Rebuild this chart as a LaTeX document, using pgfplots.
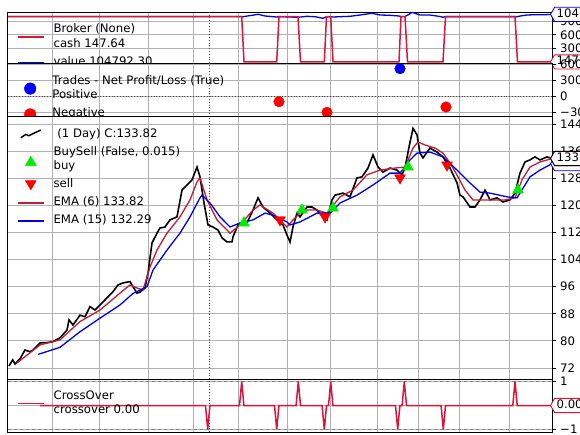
\documentclass[border=0pt]{standalone}
\usepackage{fontspec}
\setmainfont{DejaVu Sans}
\usepackage{pgfplots}
\usepackage{pgfplotstable}
\pgfplotsset{compat=1.18}
\usetikzlibrary{shapes.symbols}
\definecolor{crim}{RGB}{220,20,60}
\definecolor{emared}{RGB}{190,30,55}
\definecolor{gridgray}{RGB}{176,176,176}
\definecolor{bblue}{RGB}{0,0,230}
\definecolor{buygreen}{RGB}{0,235,0}
\newcommand\fs{\fontsize{11.7}{14.6}\selectfont}
\newcommand\two[2]{\raisebox{-10.22pt}{\vbox{\hbox{\strut#1}\hbox{\strut#2}}}}
\newcommand\one[1]{\raisebox{-2.92pt}{\strut#1}}
\tikzset{tag/.style={signal, signal to=west, signal pointer angle=120, draw=#1, fill=white, line width=0.9pt, font=\fs, anchor=west, text height=8.6pt, text depth=2.6pt, inner ysep=1.5pt, inner xsep=2pt}}
\pgfplotsset{
  btpanel/.style={
    scale only axis, width=544pt, xmin=0, xmax=544,
    anchor=north west,
    scaled y ticks=false,
    axis background/.style={fill=white},
    axis line style={black, line width=1pt},
    grid=major, grid style={gridgray, line width=0.8pt},
    xtick={44,91,140,185,230,279,322,369,410,451,501},
    xticklabels={},
    extra x ticks={201}, extra x tick labels={},
    extra x tick style={grid style={black!75, dotted, line width=1pt}, major tick length=0pt},
    ytick pos=right, yticklabel pos=right,
    tick align=outside, major tick length=4pt,
    tick style={black, line width=0.8pt},
    xtick style={draw=none},
    yticklabel style={font=\fs, anchor=west, inner sep=0pt, xshift=4pt},
    legend style={draw=none, fill=none, font=\fs, at={(0,1)}, anchor=north west, inner sep=0pt, outer sep=0pt, column sep=9pt, row sep=3.4pt, cells={anchor=west}, nodes={inner sep=0pt, outer sep=0pt, text depth=}},
    legend cell align=left,
  },
  hline/.style={legend image code/.code={\path (0pt,-7pt) (26pt,7pt); \draw[color=#1,line width=1.6pt] (0pt,0pt)--(26pt,0pt);}},
}
\pgfplotstableread{
x y
1 72.6
4.7 74.4
7 73.2
12 74.7
17 77.3
22 76.8
25 77.3
32 79.4
39 79.5
45 79.8
52 80.9
59 83.2
61 86.2
65 84.7
72 87.6
77 87.1
82 90.1
87 89.1
92 90.6
99 92.7
105 94.5
110 96.5
115 97.1
122 97.5
125 96.0
129 94.1
132 94.4
137 95.6
140 100.0
144 108.9
149 111.8
152 113.3
157 113.6
162 115.7
169 116.6
174 124.5
179 126.0
184 127.5
189 131.3
192 128.4
196 120.7
200 114.2
205 113.6
210 112.7
214 110.4
219 109.2
224 109.2
225 110.7
230 114.2
239 114.8
245 118.6
250 122.2
255 119.5
262 117.7
269 115.7
275 114.2
279 111.2
282 109.2
285 113.6
289 117.7
292 116.6
299 119.5
304 119.5
309 118.6
315 116.6
319 115.7
324 121.6
327 123.0
335 123.6
342 122.5
349 128.1
354 128.4
360 131.0
365 134.9
370 131.3
375 129.8
382 131.0
389 130.4
394 129.0
397 131.0
401 137.2
405 142.7
409 140.8
412 135.4
415 134.0
422 136.9
429 135.7
435 134.3
442 131.0
449 126.6
452 123.0
455 122.5
462 119.5
467 119.5
472 121.6
477 124.5
482 121.6
489 122.2
495 121.0
502 121.6
507 123.6
512 129.5
517 132.8
522 133.4
527 134.3
532 133.4
539 134.3
544 133.8
}\closedata
\pgfplotstableread{
x y
9 73.5
19 75.8
32 78.8
52 80.3
72 85.7
92 89.1
112 94.1
122 96.5
129 95.6
135 95.0
142 101.8
149 106.8
159 111.8
172 116.6
182 121.6
189 126.9
192 128.1
199 121.6
209 115.7
222 111.8
232 114.2
245 118.6
252 120.1
265 117.7
279 113.6
285 115.7
295 118.6
309 118.6
319 117.7
332 122.5
345 124.5
359 129.0
372 130.4
387 131.0
397 131.3
405 136.9
410 138.7
417 137.8
427 136.9
435 135.4
442 132.5
450 128.4
457 124.5
465 121.6
477 121.6
487 121.6
497 121.6
507 122.2
514 127.5
522 131.3
532 132.8
544 133.8
}\emasix
\pgfplotstableread{
x y
30 76.0
52 78.1
72 82.7
92 86.7
112 90.6
125 94.0
132 95.0
139 96.0
145 100.9
159 106.8
172 111.8
182 116.6
192 122.2
194 123.0
202 120.7
212 116.6
222 113.6
232 114.8
245 115.7
257 117.7
265 117.1
279 115.1
282 114.2
292 115.1
309 117.7
322 117.7
332 120.7
349 123.0
365 126.0
382 129.5
392 129.5
402 133.4
409 135.4
422 135.7
435 134.3
449 130.4
462 126.6
472 123.9
482 123.6
499 122.5
509 122.2
522 128.4
532 130.4
544 132.3
}\emafifteen
\pgfplotstableread{
x y
236 114.8
294 118.6
325 119.2
400 131.3
510 124.5
}\buys
\pgfplotstableread{
x y
272 115.7
317 116.6
392 128.1
439 131.9
}\sells
\pgfplotstableread{
x y
0 100000
233.7 100000
236 500
268.7 500
271 99900
290 99900
292.5 500
316.3 500
318.5 99600
322.7 99600
325 500
391 500
393 100100
397 100100
399.5 500
435 500
437.5 99900
507 99900
509.5 147.64
544 147.64
}\cash
\pgfplotstableread{
x y
0 100000
233.7 100000
235 99700
250.3 104990
257 101250
268.7 99045
271 99900
290 98385
299 100590
307 99700
315 96180
318.5 99600
322.7 99600
325 99045
342 100590
352 103450
364 107190
372 103450
382 102790
391 101250
393 100100
397 100100
400 103450
404 109390
412 103450
422 103450
432 100150
435 98385
437.5 99900
507 99900
509 99705
514 101900
519 103450
527 104100
537 104100
544 104792
}\value
\pgfplotstableread{
x y
32 0
197.5 0
199.7 -1
201.9 0
231.5 0
233.7 1
235.9 0
266.5 0
268.7 -1
270.9 0
288.1 0
290.3 1
292.5 0
314.1 0
316.3 -1
318.5 0
320.5 0
322.7 1
324.9 0
387.5 0
389.7 -1
391.9 0
394.1 0
396.3 1
398.5 0
433.1 0
435.3 -1
437.5 0
504.8 0
507 1
509.2 0
544 0
}\cross
\begin{document}
\begin{tikzpicture}
% Broker panel
\begin{axis}[btpanel, at={(8pt,-12pt)}, height=51pt, ymin=-2200, ymax=110050,
  ytick={30000,60000,90000}, yticklabels={30000,60000,90000},
  legend style={xshift=9pt, yshift=-10.5pt}]
\addlegendimage{hline=crim}
\addlegendentry{\two{Broker (None)}{cash 147.64}}
\addlegendimage{hline=bblue}
\addlegendentry{\one{value 104792.30}}
\addplot[bblue, line width=1.3pt, forget plot] table {\value};
\addplot[crim, line width=1.5pt, forget plot] table {\cash};
\coordinate (tv) at (axis cs:544,104792.30);
\coordinate (tc) at (axis cs:544,147.64);
\end{axis}
\node[tag=bblue] at ([xshift=-2pt]tv) {104792.30};
\node[tag=crim] at ([xshift=-2pt]tc) {147.64};
% Trades panel
\begin{axis}[btpanel, at={(8pt,-63pt)}, height=53.5pt, ymin=-371, ymax=632,
  ytick={-300,0,300,600}, yticklabels={−300,0,300,600},
  extra y ticks={0}, extra y tick labels={},
  extra y tick style={grid style={black!70, dotted, line width=1pt}},
  legend style={xshift=9pt, yshift=-11pt}]
\addlegendimage{legend image code/.code={\path (0pt,-7pt) (26pt,7pt); \fill[blue] (13pt,0pt) circle (5.8pt);}}
\addlegendentry{\two{Trades - Net Profit/Loss (True)}{Positive}}
\addlegendimage{legend image code/.code={\path (0pt,-7pt) (26pt,7pt); \fill[red] (13pt,-0.5pt) circle (5.8pt);}}
\addlegendentry{\one{Negative}}
\addplot[only marks, mark=*, mark size=5.3pt, blue, forget plot] coordinates {(392,525)};
\addplot[only marks, mark=*, mark size=5.3pt, red, forget plot] coordinates {(271,-94) (319,-293) (438,-193)};
\end{axis}
% Main panel
\begin{axis}[btpanel, at={(8pt,-116.5pt)}, height=262.5pt, ymin=68.75, ymax=146.21,
  ytick={72,80,88,96,104,112,120,128,136,144}, yticklabels={72,80,88,96,104,112,120,128,136,144},
  legend style={xshift=9pt, yshift=-10.3pt}]
\addlegendimage{legend image code/.code={\path (0pt,-7pt) (26pt,7pt); \draw[black,line width=1.5pt,line join=round] (3pt,-3.6pt)--(8pt,-0.3pt)--(11pt,-1.6pt)--(18pt,1.8pt)--(23pt,4pt);}}
\addlegendentry{\one{\ (1 Day) C:133.82}}
\addlegendimage{legend image code/.code={\path (0pt,-7pt) (26pt,7pt); \draw[buygreen, only marks, mark=triangle*, mark size=6.3pt] plot coordinates {(13pt,-3pt)};}}
\addlegendentry{\two{BuySell (False, 0.015)}{buy}}
\addlegendimage{legend image code/.code={\path (0pt,-7pt) (26pt,7pt); \draw[red, only marks, mark=triangle*, mark size=6.3pt, mark options={rotate=180}] plot coordinates {(13pt,1pt)};}}
\addlegendentry{\one{sell}}
\addlegendimage{hline=emared}
\addlegendentry{\one{EMA (6) 133.82}}
\addlegendimage{hline=bblue}
\addlegendentry{\one{EMA (15) 132.29}}
\addplot[black, line width=1.6pt, forget plot] table {\closedata};
\addplot[emared, line width=1.3pt, forget plot] table {\emasix};
\addplot[bblue, line width=1.3pt, forget plot] table {\emafifteen};
\addplot[only marks, mark=triangle*, mark size=6.3pt, buygreen, forget plot] table {\buys};
\addplot[only marks, mark=triangle*, mark size=6.3pt, mark options={rotate=180}, red, forget plot] table {\sells};
\coordinate (t15) at (axis cs:544,132.29);
\coordinate (t6) at (axis cs:544,133.82);
\end{axis}
\node[tag=bblue] at ([xshift=-2pt]t15) {132.29};
\node[tag=emared] at ([xshift=-2pt]t6) {133.82};
\node[tag=black] at ([xshift=-2pt]t6) {133.82};
% CrossOver panel
\begin{axis}[btpanel, at={(8pt,-379pt)}, height=53pt, ymin=-1.1, ymax=1.1,
  ytick={-1,0,1}, yticklabels={−1,0,1},
  extra y ticks={-1,1}, extra y tick labels={},
  extra y tick style={grid style={gray, dashed, line width=1pt}},
  legend style={xshift=9pt, yshift=-10pt}]
\addlegendimage{hline=crim}
\addlegendentry{\two{CrossOver}{crossover 0.00}}
\addplot[crim, line width=1.5pt, forget plot] table {\cross};
\coordinate (tx) at (axis cs:544,0);
\end{axis}
\node[tag=crim] at ([xshift=-2pt]tx) {0.00};
\pgfresetboundingbox
\useasboundingbox (0,0) rectangle (580pt,-434pt);
\end{tikzpicture}
\end{document}
